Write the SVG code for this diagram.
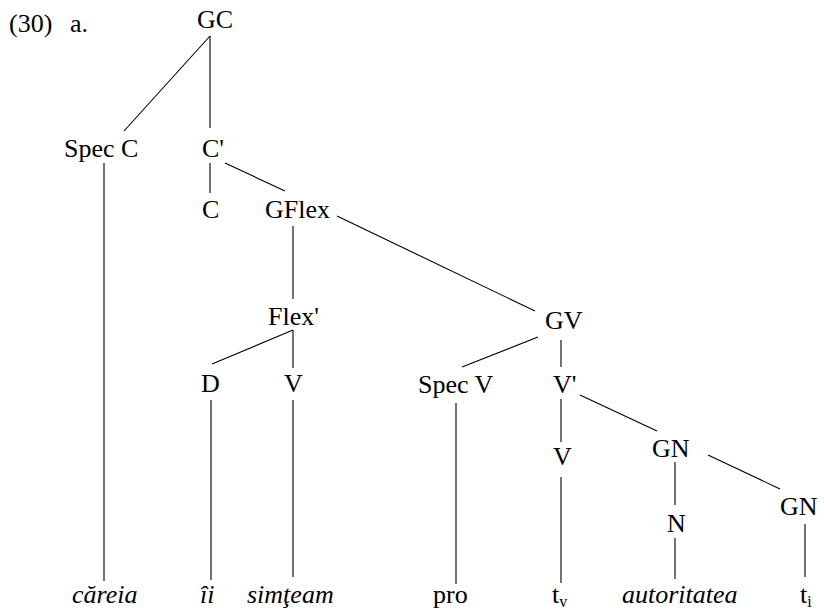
<svg xmlns="http://www.w3.org/2000/svg" width="824" height="616" viewBox="0 0 824 616">
<style>
text { font-family: "Liberation Serif", "Times New Roman", Times, "DejaVu Serif", serif; font-size: 26px; fill: #000; }
.it { font-style: italic; }
.sub { font-size: 16px; }
#edges line { stroke: #000; stroke-width: 1.1; }
</style>
<rect width="824" height="616" fill="#fff"/>
<g id="label"><text x="9" y="32">(30)<tspan x="70">a.</tspan></text></g>
<g id="edges">
<line x1="210" y1="36" x2="124" y2="131"/>
<line x1="210" y1="36" x2="210" y2="128"/>
<line x1="104" y1="163" x2="104" y2="581"/>
<line x1="210" y1="163" x2="210" y2="193"/>
<line x1="225" y1="163" x2="285" y2="191"/>
<line x1="293" y1="226" x2="293" y2="299"/>
<line x1="337" y1="216" x2="535" y2="311"/>
<line x1="293" y1="330" x2="212" y2="364"/>
<line x1="293" y1="330" x2="293" y2="368"/>
<line x1="211" y1="400" x2="211" y2="580"/>
<line x1="293" y1="400" x2="293" y2="577"/>
<line x1="538" y1="337" x2="462" y2="367"/>
<line x1="561" y1="340" x2="561" y2="367"/>
<line x1="456" y1="403" x2="456" y2="584"/>
<line x1="561" y1="399" x2="561" y2="442"/>
<line x1="580" y1="395" x2="657" y2="431"/>
<line x1="561" y1="477" x2="561" y2="583"/>
<line x1="675" y1="462" x2="675" y2="505"/>
<line x1="708" y1="455" x2="780" y2="489"/>
<line x1="675" y1="538" x2="675" y2="579"/>
<line x1="805" y1="524" x2="805" y2="577"/>
</g>
<g id="n-GC"><text x="197" y="28">GC</text></g>
<g id="n-SpecC"><text x="64" y="157">Spec C</text></g>
<g id="n-Cbar"><text x="202" y="157">C'</text></g>
<g id="n-C"><text x="202" y="218">C</text></g>
<g id="n-GFlex"><text x="265" y="218">GFlex</text></g>
<g id="n-Flexbar"><text x="268" y="325">Flex'</text></g>
<g id="n-GV"><text x="545" y="329">GV</text></g>
<g id="n-D"><text x="201" y="392">D</text></g>
<g id="n-V1"><text x="284" y="392">V</text></g>
<g id="n-SpecV"><text x="418" y="393">Spec V</text></g>
<g id="n-Vbar"><text x="553" y="393">V'</text></g>
<g id="n-V2"><text x="553" y="465">V</text></g>
<g id="n-GN1"><text x="652" y="457">GN</text></g>
<g id="n-N"><text x="667" y="532">N</text></g>
<g id="n-GN2"><text x="780" y="515">GN</text></g>
<g id="w-careia"><text class="it" x="72" y="603">căreia</text></g>
<g id="w-ii"><text class="it" x="200" y="603">îi</text></g>
<g id="w-simteam"><text class="it" x="247" y="603">simţeam</text></g>
<g id="w-pro"><text x="433" y="603">pro</text></g>
<g id="w-tv"><text x="552" y="603">t<tspan class="sub" dy="4">v</tspan></text></g>
<g id="w-autoritatea"><text class="it" x="622" y="603">autoritatea</text></g>
<g id="w-ti"><text x="800" y="603">t<tspan class="sub" dy="4">i</tspan></text></g>
</svg>
